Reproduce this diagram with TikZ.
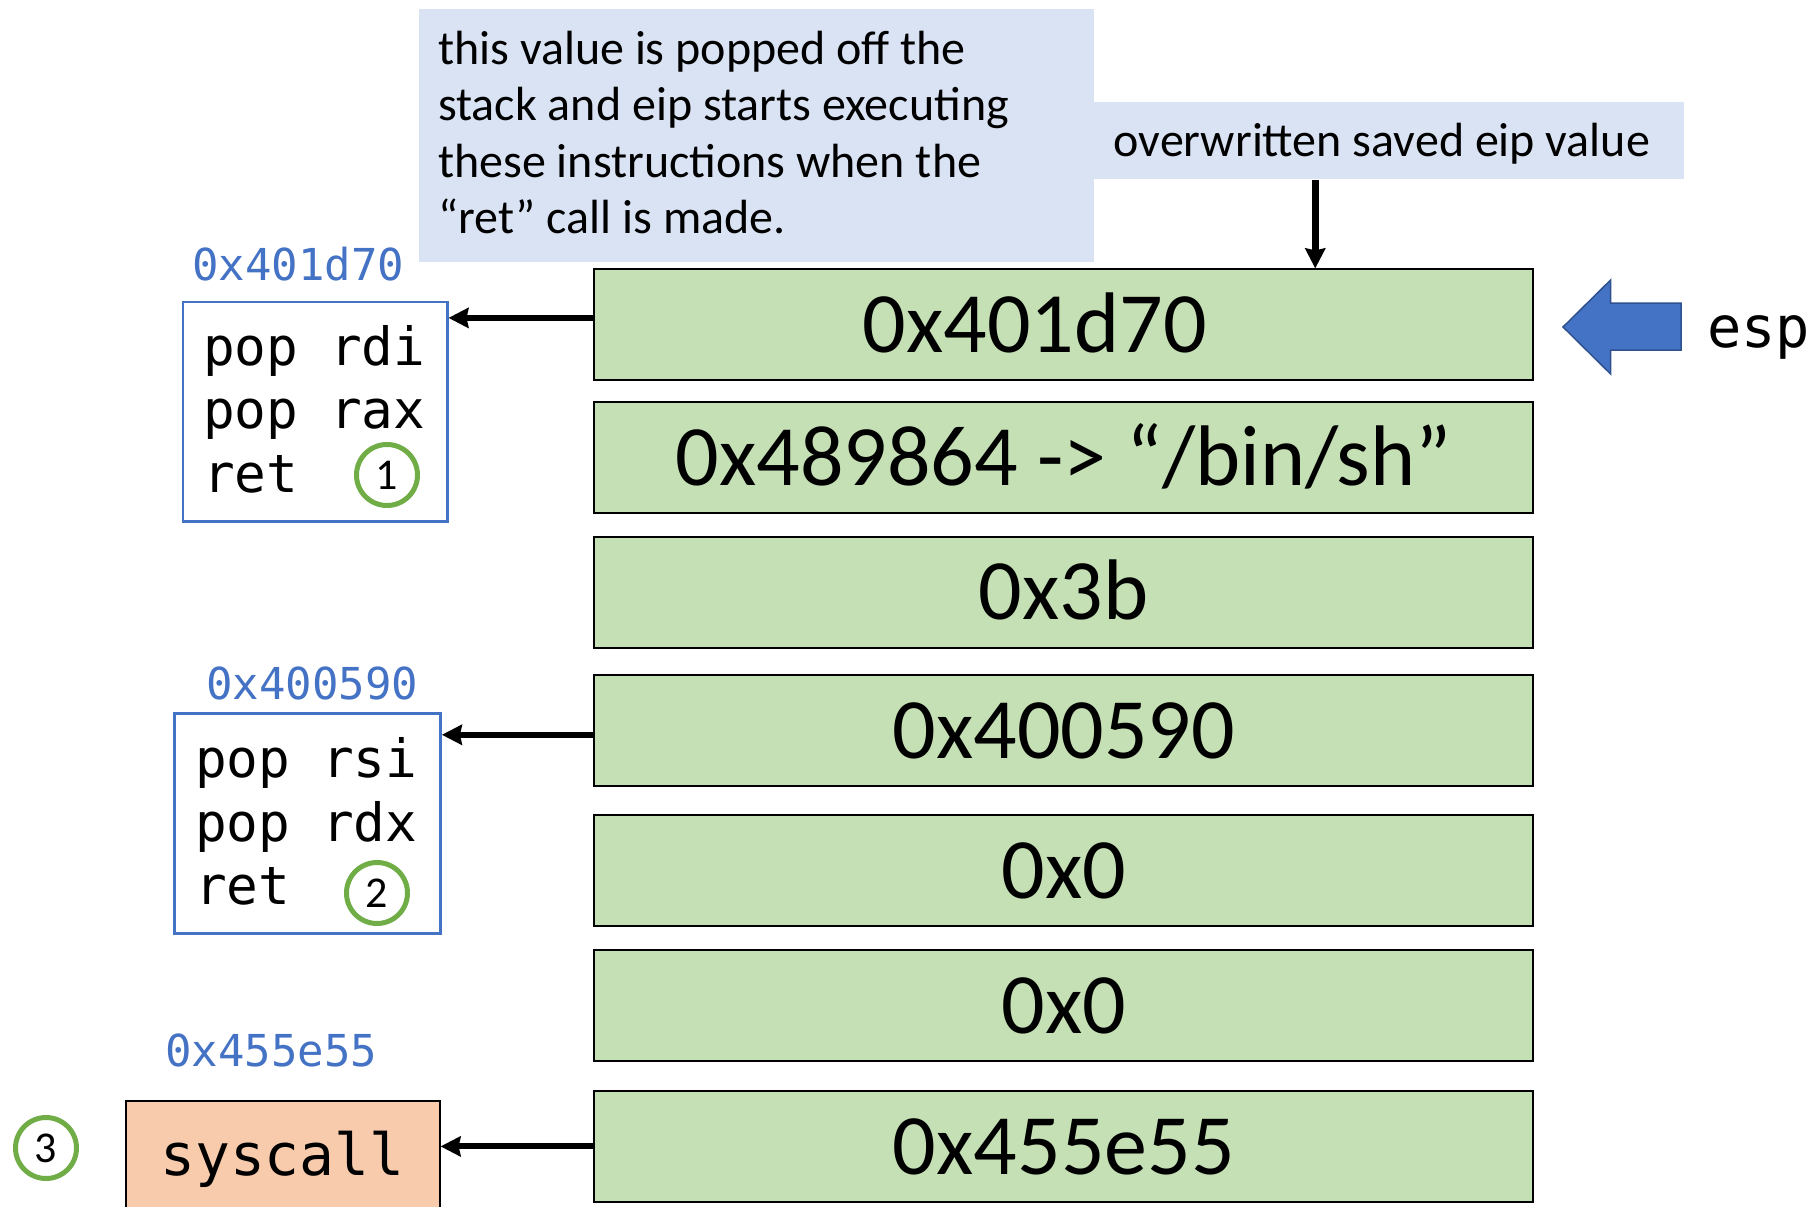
\documentclass[tikz,border=0pt]{standalone}
\usepackage{fontspec}
\setmainfont{Carlito}
\setmonofont{DejaVu Sans Mono}
\usetikzlibrary{arrows.meta,calc}

\definecolor{noteblue}{HTML}{DAE3F3}
\definecolor{slotgreen}{HTML}{C5E0B4}
\definecolor{gadblue}{HTML}{4472C4}
\definecolor{espedge}{HTML}{2F528F}
\definecolor{numgreen}{HTML}{70AD47}
\definecolor{sysorange}{HTML}{F8CBAD}

\begin{document}
\begin{tikzpicture}[x=1pt,y=-1pt,
  slot/.style={draw=black, line width=2pt, fill=slotgreen, minimum width=939pt,
    minimum height=111pt, inner sep=0pt, font=\fontsize{86}{100}\selectfont,
    text height=55.4pt, text depth=0pt},
  gadget/.style={draw=gadblue, line width=2.5pt, inner sep=0pt, anchor=north west},
  code/.style={font=\ttfamily\fontsize{52.7}{60}\selectfont, anchor=base west, inner sep=0pt},
  addr/.style={font=\ttfamily\fontsize{44}{50}\selectfont, text=gadblue, anchor=base west, inner sep=0pt},
  num/.style={circle, draw=numgreen, line width=5pt, minimum size=61pt, inner sep=0pt,
    font=\fontsize{44}{50}\selectfont},
  note/.style={fill=noteblue, inner sep=0pt, anchor=north west},
  notetext/.style={font=\fontsize{48}{56}\selectfont, anchor=base west, inner sep=0pt},
  ptr/.style={line width=6pt, -{Stealth[length=20pt,width=20pt,inset=2pt]}},
  ptrdown/.style={line width=6.5pt, -{Stealth[length=20pt,width=20pt,inset=2pt]}}]

\useasboundingbox (0,0) rectangle (1813,1207);

% explanatory notes
\node[note, minimum width=675.2pt, minimum height=252.1pt] (note1) at (418.6,9.2) {};
\node[notetext] (nl1) at (438,65) {this value is popped off the};
\node[notetext] (nl2) at (438,121) {stack and eip starts executing};
\node[notetext] (nl3) at (438,177) {these instructions when the};
\node[notetext] (nl4) at (438,233) {“ret” call is made.};
\node[note, minimum width=589.7pt, minimum height=77.4pt] (note2) at (1093.8,101.8) {};
\node[notetext] (n2t) at (1113.5,156) {overwritten saved eip value};

% stack slots
\node[slot] (g1) at (1063.75,324.9) {0x401d70\hspace*{58pt}};
\node[slot] (g2) at (1063.75,457.9) {0x489864 -> “/bin/sh”};
\node[slot] (g3) at (1063.75,592) {0x3b};
\node[slot] (g4) at (1063.75,730.8) {0x400590};
\node[slot] (g5) at (1063.75,870.7) {0x0};
\node[slot] (g6) at (1063.75,1005.9) {0x0};
\node[slot] (g7) at (1063.75,1146.4) {0x455e55};

% stack pointer marker
\filldraw[fill=gadblue, draw=espedge, line width=1.5pt]
  (1563,327) -- (1610.6,280) -- (1610.6,303) -- (1681,303) -- (1681,350)
  -- (1610.6,350) -- (1610.6,374) -- cycle;
\node[font=\ttfamily\fontsize{57}{60}\selectfont, anchor=base west, inner sep=0pt] (esp) at (1707,347) {esp};

% gadget 1
\node[addr] (a1) at (192,280) {0x401d70};
\node[gadget, minimum width=264.5pt, minimum height=219.4pt] (gad1) at (181.5,300.6) {};
\node[code] (c11) at (203,365) {pop rdi};
\node[code] (c12) at (203,428) {pop rax};
\node[code] (c13) at (203,492) {ret};
\node[num] (n1) at (387,475) {1};

% gadget 2
\node[addr] (a2) at (206,699) {0x400590};
\node[gadget, minimum width=266pt, minimum height=220pt] (gad2) at (173.4,712) {};
\node[code] (c21) at (195,777) {pop rsi};
\node[code] (c22) at (195,841) {pop rdx};
\node[code] (c23) at (195,904) {ret};
\node[num] (n2) at (377,893) {2};

% syscall gadget
\node[addr] (a3) at (165,1066) {0x455e55};
\node[draw=black, line width=1.6pt, fill=sysorange, anchor=north west, inner sep=0pt,
  minimum width=314pt, minimum height=130pt] (sys) at (125,1100) {};
\node[font=\ttfamily\fontsize{58}{60}\selectfont, anchor=base west, inner sep=0pt] (sct) at (160,1175) {syscall};
\node[num] (n3) at (46,1148) {3};

% connectors
\path ([yshift=7pt]g1.west) coordinate (p1);
\draw[ptr] (p1) -- (p1 -| gad1.east);
\path ([yshift=-4pt]g4.west) coordinate (p2);
\draw[ptr] (p2) -- (p2 -| gad2.east);
\draw[ptr] (g7.west) -- (g7.west -| sys.east);
\path ([xshift=-73.6pt]note2.south) coordinate (d1);
\draw[ptrdown] (d1) -- (d1 |- g1.north);
\end{tikzpicture}
\end{document}
